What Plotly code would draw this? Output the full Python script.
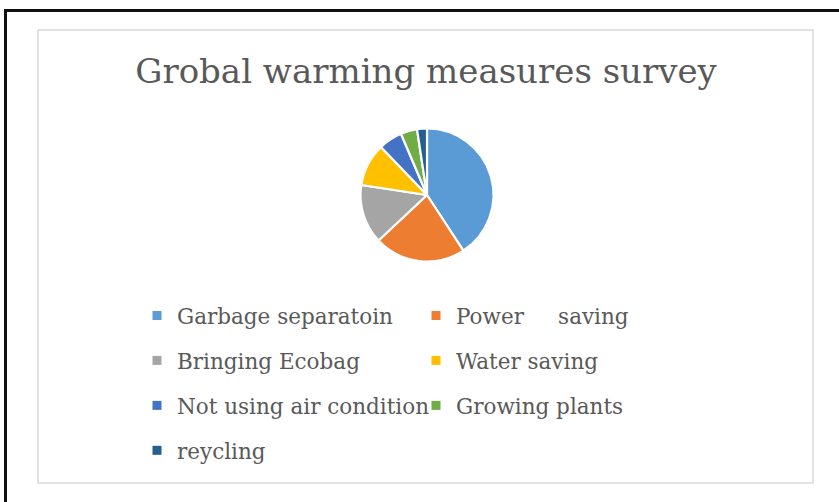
import plotly.graph_objects as go

# ---- data ----
labels = [
    "Garbage separatoin",
    "Power\u00a0\u00a0\u00a0\u00a0 saving",
    "Bringing Ecobag",
    "Water saving",
    "Not using air condition",
    "Growing plants",
    "reycling",
]
values = [40.8, 22.2, 14.4, 10.4, 5.8, 4.0, 2.4]
colors = ["#5B9BD5", "#ED7D31", "#A5A5A5", "#FFC000", "#4472C4", "#70AD47", "#255E91"]
title_text = "Grobal warming measures survey"

W, H = 839, 502
FONT = "DejaVu Serif"
TXT = "#595959"

def px(x):
    return x / W

def py(y):
    return 1 - y / H

fig = go.Figure()

cx, cy, r = 427, 195, 66.5
fig.add_trace(go.Pie(
    labels=labels, values=values, sort=False, direction="clockwise", rotation=0,
    marker=dict(colors=colors, line=dict(color="white", width=2.2)),
    textinfo="none", hoverinfo="label+percent", showlegend=False,
    domain=dict(x=[px(cx - r), px(cx + r)], y=[py(cy + r), py(cy - r)]),
))

for i, (lab, col) in enumerate(zip(labels, colors)):
    fig.add_trace(go.Scatter(
        x=[None], y=[None], mode="markers", name=lab,
        marker=dict(symbol="square", size=9, color=col),
        legend="legend" if i % 2 == 0 else "legend2",
        legendgroup=lab, showlegend=True, hoverinfo="skip",
    ))

leg_common = dict(
    xanchor="left", yanchor="top", traceorder="grouped", tracegroupgap=14,
    font=dict(family=FONT, size=21.5, color=TXT), bgcolor="rgba(0,0,0,0)",
)

fig.update_layout(
    width=W, height=H, margin=dict(l=0, r=0, t=0, b=0),
    paper_bgcolor="white", plot_bgcolor="white",
    xaxis=dict(visible=False), yaxis=dict(visible=False),
    title=dict(text=title_text, x=px(426), xanchor="center", y=py(71), yanchor="middle",
               xref="paper", yref="paper",
               font=dict(family=FONT, size=34, color=TXT)),
    legend=dict(x=px(137), y=py(295), **leg_common),
    legend2=dict(x=px(416), y=py(295), **leg_common),
    shapes=[
        dict(type="rect", xref="paper", yref="paper", x0=px(38), x1=px(813), y0=py(483), y1=py(30),
             line=dict(color="#D9D9D9", width=1.5)),
        dict(type="rect", xref="paper", yref="paper", x0=px(5.5), x1=1.05, y0=-0.05, y1=py(10.5),
             line=dict(color="#111111", width=3)),
    ],
)

fig.write_html("out.html", config={"displayModeBar": False},
               post_script="document.body.style.margin='0';")
